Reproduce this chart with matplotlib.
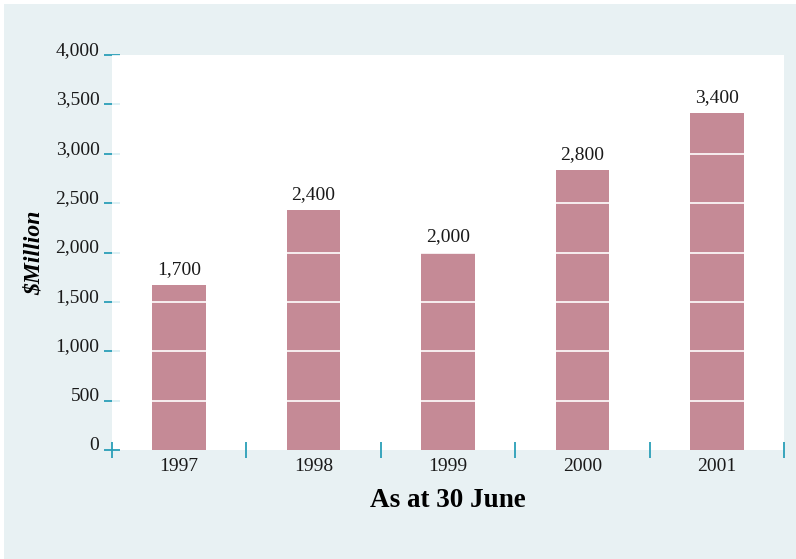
import matplotlib
matplotlib.use("Agg")
import matplotlib.pyplot as plt
import numpy as np

years = ["1997", "1998", "1999", "2000", "2001"]
values = [1670, 2430, 2000, 2835, 3410]
labels = ["1,700", "2,400", "2,000", "2,800", "3,400"]
yticks = [0, 500, 1000, 1500, 2000, 2500, 3000, 3500, 4000]
ytick_labels = ["0", "500", "1,000", "1,500", "2,000", "2,500", "3,000", "3,500", "4,000"]

bg = "#e8f1f3"
bar_color = "#c58a96"
tick_color = "#2a9fb8"
serif = ["Liberation Serif", "DejaVu Serif"]

fig = plt.figure(figsize=(7.96, 5.59), dpi=100, facecolor="white")
# background panel
fig.patches.append(plt.Rectangle((4/796, 0), 792/796, 555/559, transform=fig.transFigure,
                                 facecolor=bg, edgecolor="none", zorder=-10))
ax = fig.add_axes([112/796, 1 - 450/559, 672/796, 395/559])
ax.set_facecolor("white")
x = np.arange(len(years))
ax.bar(x, values, width=0.4, color=bar_color, zorder=2)
for yv in yticks[1:]:
    ax.axhline(yv, color="white", lw=1.2, zorder=3)
for xi, v, lab in zip(x, values, labels):
    ax.text(xi, v + 70, lab, ha="center", va="bottom", fontsize=14, family=serif, color="#1a1a1a")

ax.set_xlim(-0.5, 4.5)
ax.set_ylim(0, 4000)
for s in ax.spines.values():
    s.set_visible(False)
ax.set_yticks(yticks)
ax.set_yticklabels(ytick_labels, family=serif, fontsize=14, color="#1a1a1a")
for t in ax.yaxis.get_major_ticks():
    t.label1.set_verticalalignment("baseline")
ax.set_xticks(np.arange(-0.5, 5, 1.0))
ax.set_xticklabels([])
ax.set_xticks(x, minor=True)
ax.set_xticklabels(years, minor=True, family=serif, fontsize=14, color="#1a1a1a")
ax.tick_params(axis="y", direction="inout", length=12, width=1.3, color=tick_color, pad=3)
ax.tick_params(axis="x", which="major", direction="inout", length=12, width=1.3, color=tick_color)
ax.tick_params(axis="x", which="minor", length=0, pad=6)

ax.set_ylabel(r"\$Million", family=serif, fontsize=17, fontweight="bold", style="italic", labelpad=8)
ax.set_xlabel("As at 30 June", family=serif, fontsize=19.5, fontweight="bold", labelpad=9)

fig.savefig("out.png", dpi=100, facecolor="white")
